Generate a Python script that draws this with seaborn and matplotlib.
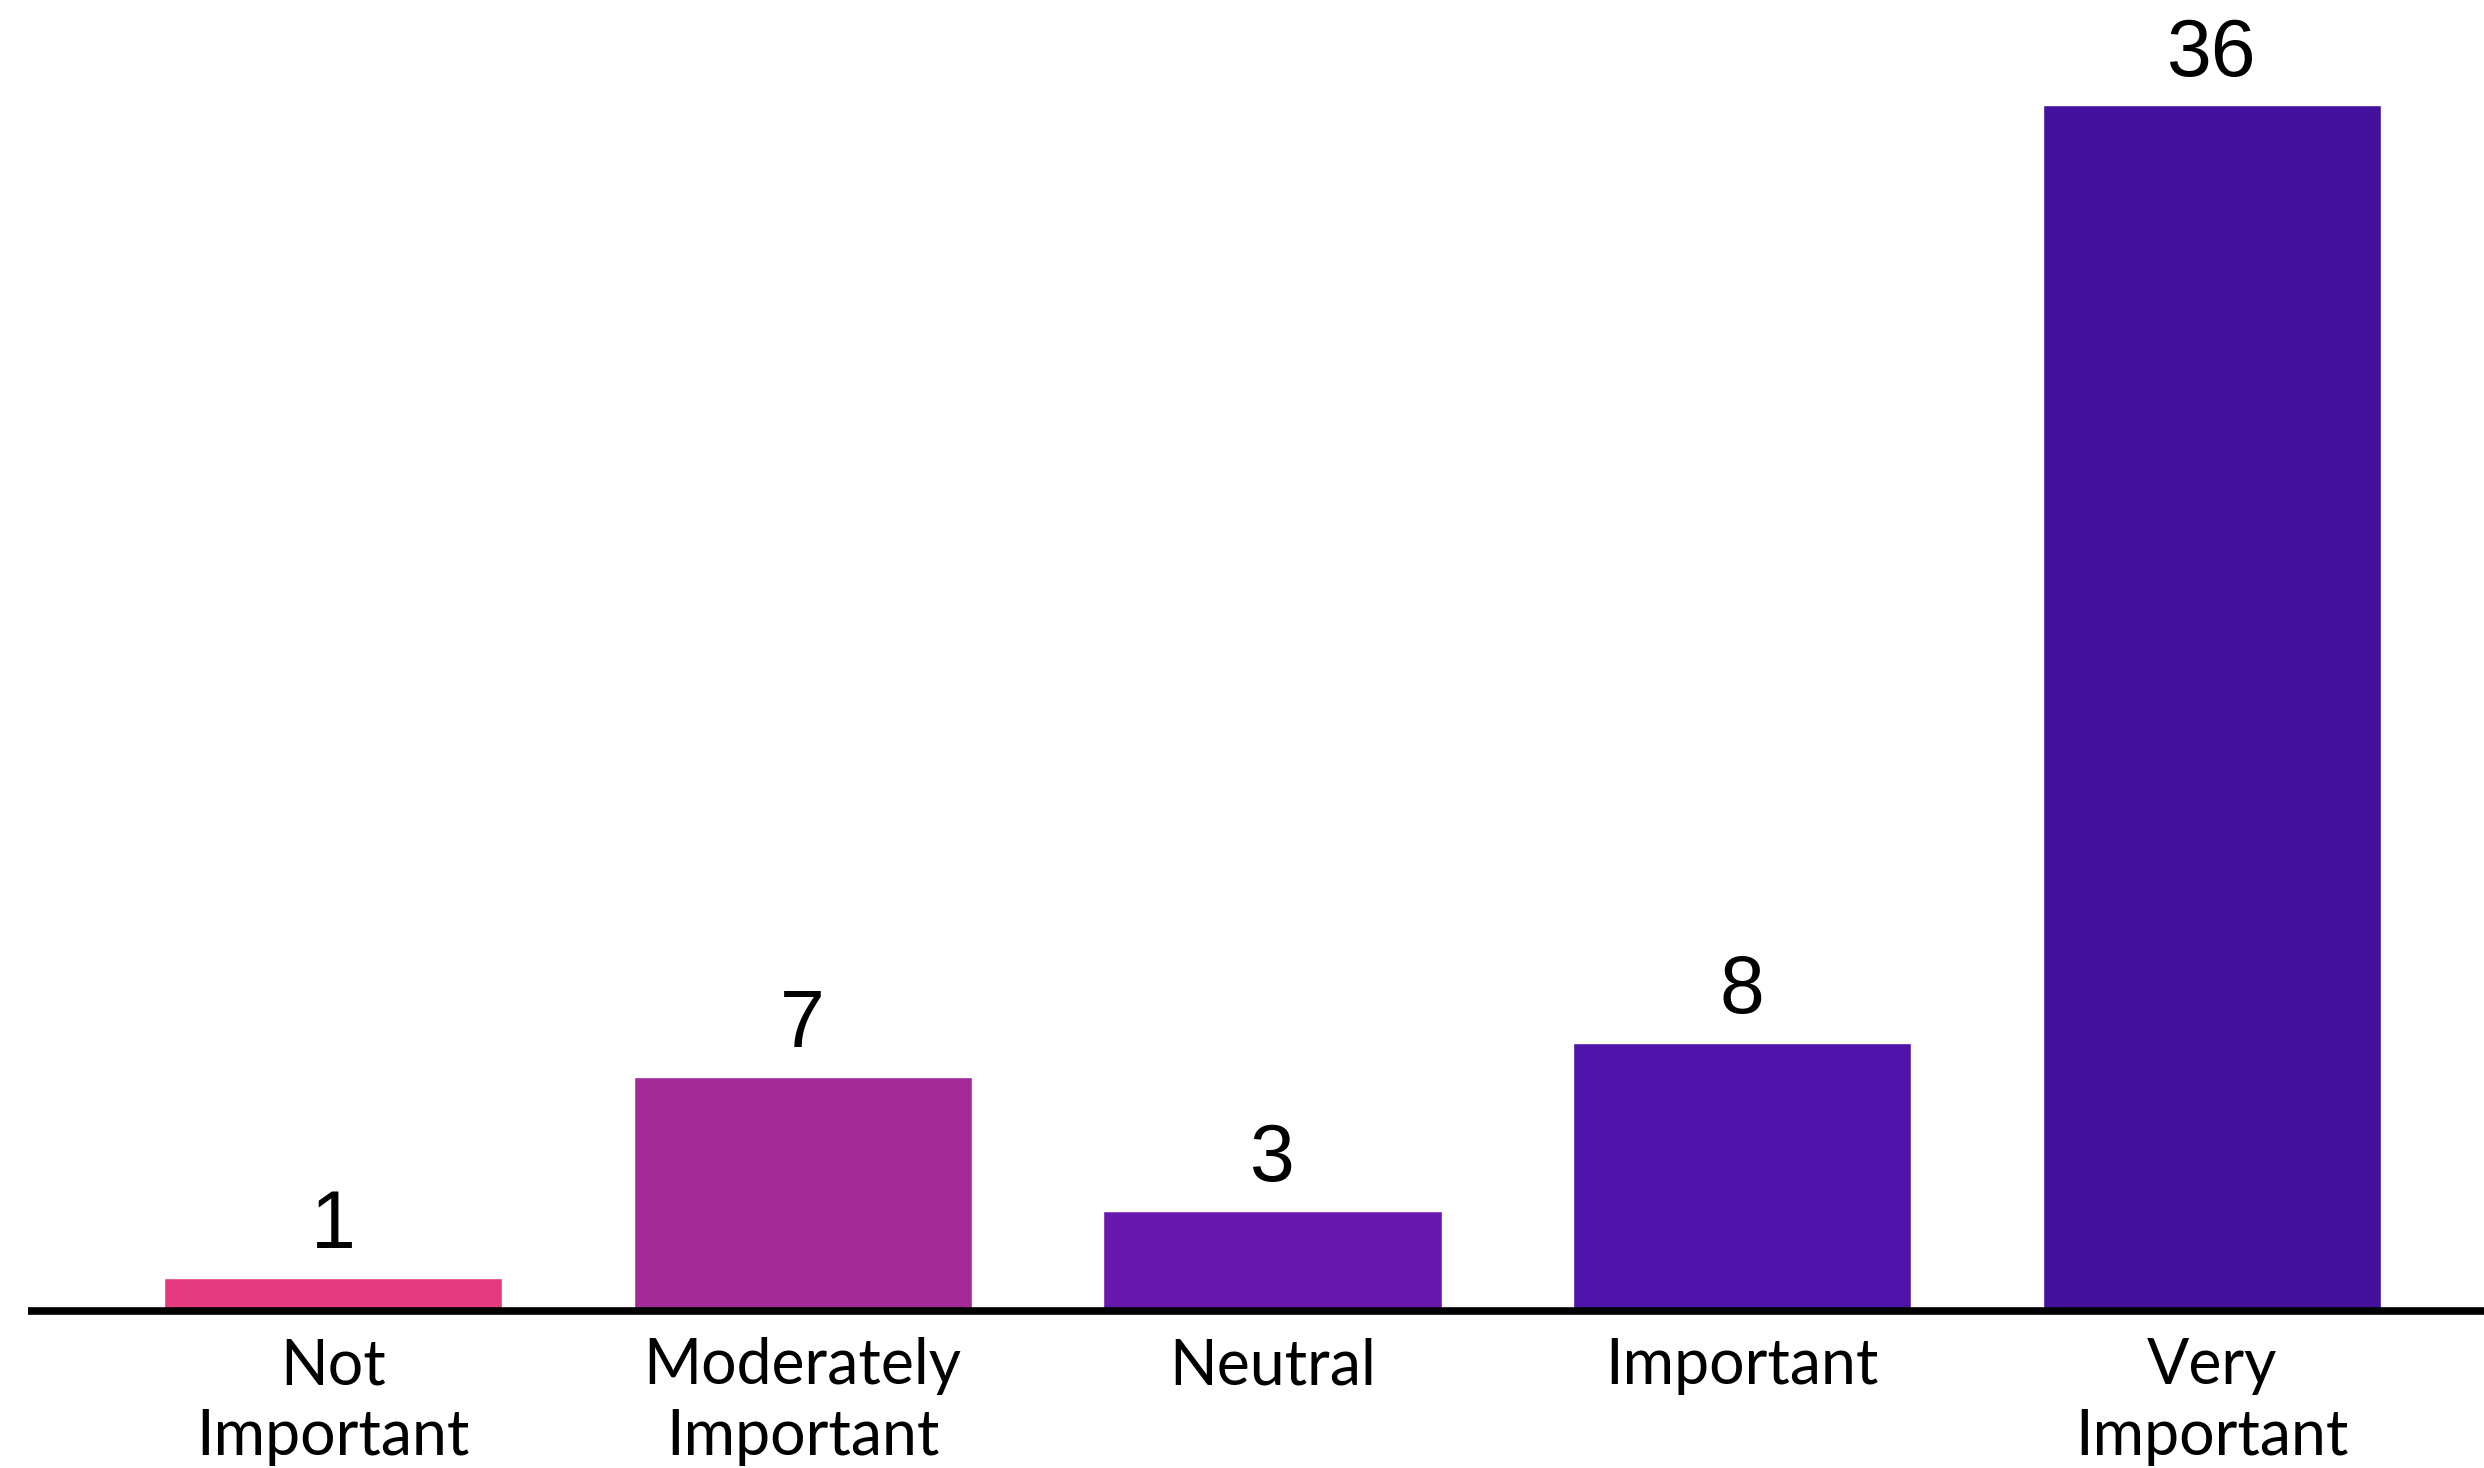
"""
Importance rating bar chart
"""

import matplotlib
matplotlib.use("Agg")
import matplotlib.pyplot as plt
import seaborn as sns
import pandas as pd

# Data
categories = ["Not\nImportant", "Moderately\nImportant", "Neutral", "Important", "Very\nImportant"]
counts = [1, 7, 3, 8, 36]
bar_colors = ["#E63A80", "#A42A98", "#6818AF", "#4E13A8", "#43119E"]


def main():
    sns.set_style("white")
    plt.rcParams["font.family"] = ["Lato", "DejaVu Sans"]

    df = pd.DataFrame({"category": categories, "count": counts})

    fig = plt.figure(figsize=(24.84, 14.68), dpi=100)
    ax = fig.add_axes([28 / 2484, 157 / 1468, 1 - 28 / 2484, 1 - 157 / 1468])

    sns.barplot(
        data=df, x="category", y="count", hue="category",
        palette=bar_colors, width=0.72, saturation=1, legend=False, ax=ax,
    )

    # value labels above bars
    for i, v in enumerate(counts):
        ax.annotate(
            str(v), xy=(i, v), xytext=(0, 21.5), textcoords="offset points",
            ha="center", va="baseline", fontsize=58,
            family=["Liberation Sans", "DejaVu Sans"], color="black",
        )

    ax.set_xlim(-0.649, 4.579)
    ax.set_ylim(0, 39.15)
    ax.set_xlabel("")
    ax.set_ylabel("")
    ax.set_yticks([])

    for side in ["left", "right", "top"]:
        ax.spines[side].set_visible(False)
    ax.spines["bottom"].set_linewidth(5.5)
    ax.spines["bottom"].set_color("black")
    ax.spines["bottom"].set_capstyle("butt")

    ax.tick_params(axis="x", length=0, pad=19, labelsize=45, labelcolor="black")
    for lbl in ax.get_xticklabels():
        lbl.set_linespacing(1.27)

    fig.savefig("out.png", dpi=100, facecolor="white")


if __name__ == "__main__":
    main()
